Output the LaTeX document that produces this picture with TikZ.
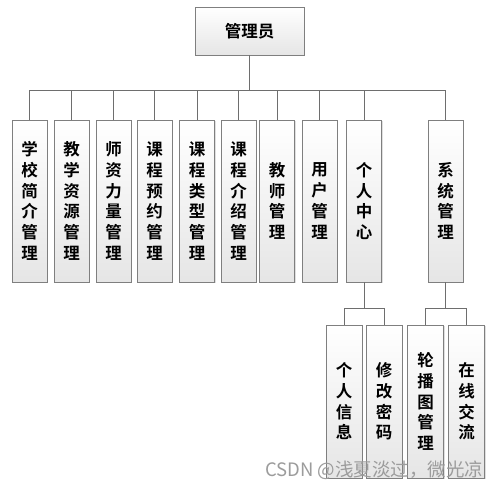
\documentclass[tikz,border=0pt]{standalone}
\usepackage{fontspec}
\newfontfamily\cjk{Noto Sans CJK SC}
\newfontfamily\cjkb{Noto Sans CJK SC Bold}
\usetikzlibrary{shadows}
\definecolor{boxline}{HTML}{7F7F7F}
\definecolor{conn}{HTML}{6E6E6E}
\definecolor{wm}{HTML}{9C9C9C}
\tikzset{
  box/.style={draw=boxline, line width=0.9pt, top color=white, bottom color=black!10,
    drop shadow={opacity=0.25, shadow xshift=1.2pt, shadow yshift=-1.2pt},
    inner sep=0pt, align=center, font=\cjkb\fontsize{16.5}{20.7}\selectfont},
  vbox/.style={box, minimum width=35pt, minimum height=162pt},
  sbox/.style={box, minimum width=36pt, minimum height=153pt},
  link/.style={draw=conn, line width=0.8pt}
}
\begin{document}
\begin{tikzpicture}[x=1pt,y=-1pt]
\useasboundingbox[fill=white] (0,0) rectangle (499,487);
\node[box, minimum width=109pt, minimum height=48pt] (top) at (249.5,31) {管理员};
\node[vbox] (b1) at (29.5,201) {学\\校\\简\\介\\管\\理};
\node[vbox] (b2) at (71.5,201) {教\\学\\资\\源\\管\\理};
\node[vbox] (b3) at (113.5,201) {师\\资\\力\\量\\管\\理};
\node[vbox] (b4) at (154.5,201) {课\\程\\预\\约\\管\\理};
\node[vbox] (b5) at (197,201) {课\\程\\类\\型\\管\\理};
\node[vbox] (b6) at (238.5,201) {课\\程\\介\\绍\\管\\理};
\node[vbox] (b7) at (277,201) {教\\师\\管\\理};
\node[vbox] (b8) at (319.5,201) {用\\户\\管\\理};
\node[vbox] (b9) at (364,201) {个\\人\\中\\心};
\node[vbox] (b10) at (445.5,201) {系\\统\\管\\理};
\node[sbox] (c1) at (344,401.5) {个\\人\\信\\息};
\node[sbox] (c2) at (384,401.5) {修\\改\\密\\码};
\node[sbox] (c3) at (425.5,401.5) {轮\\播\\图\\管\\理};
\node[sbox] (c4) at (466.5,401.5) {在\\线\\交\\流};
\coordinate (bus) at (top.south |- 0,90);
\coordinate (j1) at (b9.south |- 0,308);
\coordinate (j2) at (b10.south |- 0,308);
\draw[link] (top.south) -- (bus);
\foreach \n in {b1,b2,b3,b4,b5,b6,b7,b8,b9,b10} \draw[link] (\n.north) |- (bus);
\draw[link] (b9.south) -- (j1);
\draw[link] (c1.north) |- (j1);
\draw[link] (c2.north) |- (j1);
\draw[link] (b10.south) -- (j2);
\draw[link] (c3.north) |- (j2);
\draw[link] (c4.north) |- (j2);
\node[anchor=west, inner sep=0pt, text=wm, font=\cjk\fontsize{18.5}{19}\selectfont] (wmk) at (265,470) {CSDN @浅夏淡过，微光凉};
\end{tikzpicture}
\end{document}
